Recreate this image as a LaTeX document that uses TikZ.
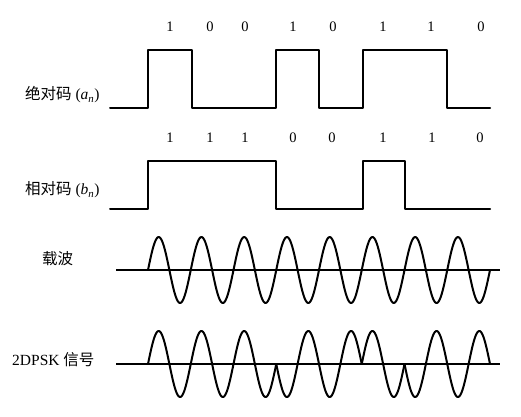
\documentclass[tikz,border=0pt]{standalone}
\usepackage{fontspec}
\setmainfont{Liberation Serif}
\newfontfamily\cjk{Noto Sans CJK SC}
\tikzset{
  wave/.style={line width=2pt, line join=round, line cap=round},
  axisline/.style={line width=2pt},
  bitlabel/.style={font=\fontsize{14.5}{16}\selectfont, inner sep=0pt},
  rowlabel/.style={font=\fontsize{15.5}{18}\selectfont, inner sep=0pt, anchor=west}
}
\begin{document}
\begin{tikzpicture}[x=1pt,y=-1pt]
\useasboundingbox (0,0) rectangle (521,416);
% top bit labels
\foreach \xx/\b [count=\i] in {170/1,210/0,245/0,293/1,333/0,383/1,431/1,481/0}
  \node[bitlabel] (ta\i) at (\xx,27) {\b};
% second bit labels
\foreach \xx/\b [count=\i] in {170/1,210/1,245/1,293/0,332/0,383/1,432/1,480/0}
  \node[bitlabel] (tb\i) at (\xx,138) {\b};
% row labels
\node[rowlabel] (la) at (25,95) {{\cjk 绝对码} (\textit{a}\textsubscript{\textit{n}})};
\node[rowlabel] (lb) at (25,190) {{\cjk 相对码} (\textit{b}\textsubscript{\textit{n}})};
\node[rowlabel] (lc) at (42,259) {\cjk 载波};
\node[rowlabel] (ld) at (12,360) {2DPSK {\cjk 信号}};
% absolute code waveform
\draw[wave] (110,108) -- (148,108) -- (148,50) -- (192,50) -- (192,108) -- (276,108)
  -- (276,50) -- (319,50) -- (319,108) -- (363,108) -- (363,50) -- (447,50)
  -- (447,108) -- (490,108);
% relative code waveform
\draw[wave] (110,209) -- (148,209) -- (148,161) -- (276,161) -- (276,209) -- (363,209)
  -- (363,161) -- (405,161) -- (405,209) -- (490,209);
% carrier
\draw[axisline] (116,270) -- (500,270);
\draw[wave] plot[domain=148:490, samples=300] (\x, {270 - 33*sin((\x-148)/42.75*360)});
% 2DPSK
\draw[axisline] (116,364) -- (500,364);
\foreach \s [count=\k from 0] in {1,1,1,-1,-1,1,-1,-1} {
  \pgfmathsetmacro{\xa}{148+42.75*\k}
  \pgfmathsetmacro{\xb}{148+42.75*(\k+1)}
  \draw[wave] plot[domain=\xa:\xb, samples=60] (\x, {364 - \s*33*sin((\x-148)/42.75*360)});
}
\end{tikzpicture}
\end{document}
